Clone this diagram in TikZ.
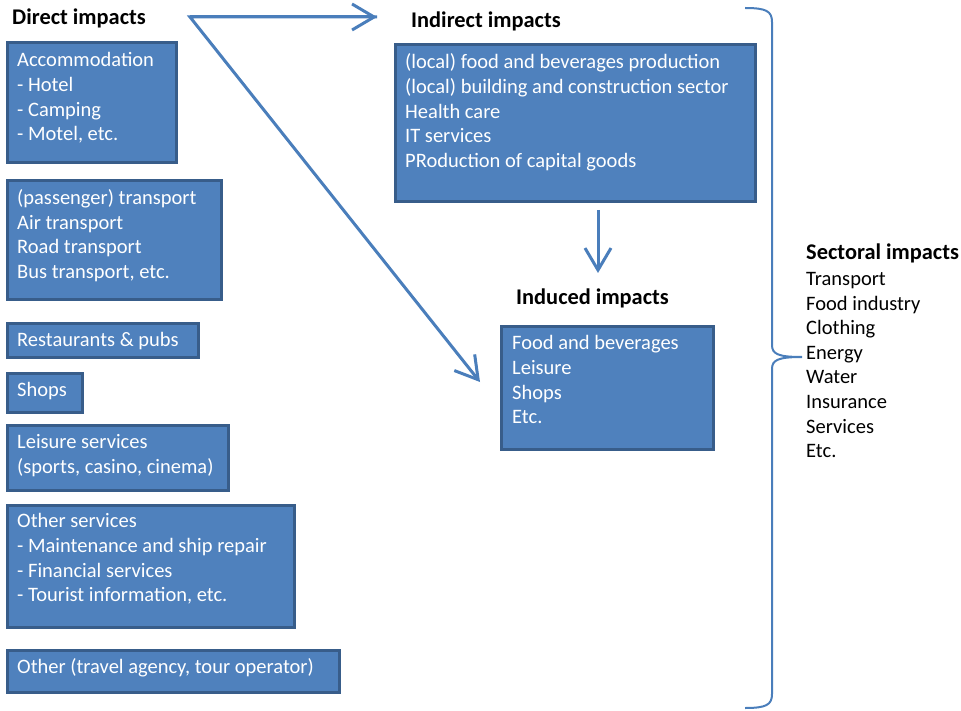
\documentclass[tikz,border=0pt]{standalone}
\usepackage{fontspec}
\setmainfont{Carlito}
\usetikzlibrary{arrows.meta,positioning,calc}
\definecolor{boxfill}{HTML}{4F81BD}
\definecolor{boxline}{HTML}{385D8A}
\definecolor{arrowblue}{HTML}{4A7EBB}
\begin{document}
\begin{tikzpicture}[x=1pt,y=1pt,
  box/.style={draw=boxline, fill=boxfill, line width=3pt, rectangle, inner sep=0pt, anchor=north west},
  boxtext/.style={anchor=north west, inner sep=0pt, text=white, align=left, font=\fontsize{20.5}{24.6}\selectfont},
  heading/.style={anchor=base west, inner sep=0pt, text=black, font=\fontsize{22.4}{26}\selectfont\bfseries},
  plain/.style={anchor=north west, inner sep=0pt, text=black, align=left, font=\fontsize{20.5}{24.6}\selectfont},
  arr/.style={draw=arrowblue, line width=3pt, -{Straight Barb[length=22pt, width=26pt]}},
  bracestyle/.style={draw=arrowblue, line width=2pt}
]
\useasboundingbox (0,0) rectangle (961,-711);

% Headings
\node[heading] (dirH) at (12,-25) {Direct impacts};
\node[heading] (indH) at (411,-27.5) {Indirect impacts};
\node[heading] (icdH) at (516,-305) {Induced impacts};
\node[heading] (secH) at (806,-260) {Sectoral impacts};

% Direct impact boxes
\node[box, minimum width=169pt, minimum height=120pt] (b1) at (5.5,-41.5) {};
\node[boxtext] (t1) at ([shift={(11.5,-8)}]b1.north west) {\strut Accommodation\\- Hotel\\- Camping\\- Motel, etc.};

\node[box, minimum width=214pt, minimum height=119pt] (b2) at (5.5,-179.5) {};
\node[boxtext] (t2) at ([shift={(11.5,-7.5)}]b2.north west) {\strut (passenger) transport\\Air transport\\Road transport\\Bus transport, etc.};

\node[box, minimum width=191pt, minimum height=34pt] (b3) at (5.5,-321.5) {};
\node[boxtext] (t3) at ([shift={(11.5,-7.5)}]b3.north west) {\strut Restaurants \& pubs};

\node[box, minimum width=75pt, minimum height=39pt] (b4) at (5.5,-371.5) {};
\node[boxtext] (t4) at ([shift={(11.5,-7.5)}]b4.north west) {\strut Shops};

\node[box, minimum width=221pt, minimum height=65pt] (b5) at (5.5,-423.5) {};
\node[boxtext] (t5) at ([shift={(11.5,-7.5)}]b5.north west) {\strut Leisure services\\(sports, casino, cinema)};

\node[box, minimum width=287pt, minimum height=122pt] (b6) at (5.5,-503.5) {};
\node[boxtext] (t6) at ([shift={(11.5,-7)}]b6.north west) {\strut Other services\\- Maintenance and ship repair\\- Financial services\\- Tourist information, etc.};

\node[box, minimum width=332pt, minimum height=42pt] (b7) at (5.5,-648.5) {};
\node[boxtext] (t7) at ([shift={(11.5,-7.5)}]b7.north west) {\strut Other (travel agency, tour operator)};

% Indirect box
\node[box, minimum width=360pt, minimum height=157pt] (ind) at (393.5,-43.5) {};
\node[boxtext] (tind) at ([shift={(11.5,-8)}]ind.north west) {\strut (local) food and beverages production\\(local) building and construction sector\\Health care\\IT services\\PRoduction of capital goods};

% Induced box
\node[box, minimum width=212pt, minimum height=123pt] (icd) at (499.5,-324.5) {};
\node[boxtext] (ticd) at ([shift={(12.5,-8)}]icd.north west) {\strut Food and beverages\\Leisure\\Shops\\Etc.};

% Sectoral list
\node[plain] (sec) at ([shift={(0,-8)}]secH.base west) {\strut Transport\\Food industry\\Clothing\\Energy\\Water\\Insurance\\Services\\Etc.};

% Arrows
\coordinate (src) at (190,-17);
\coordinate (topTip) at (377,-17);
\coordinate (diagTip) at (480,-382);
\coordinate (downStart) at (598,-210);
\coordinate (downTip) at (598,-273);
\draw[arr, line join=miter] (topTip) -- (src) -- (diagTip);
\draw[arr] (src) -- (topTip);
\draw[arr] (downStart) -- (downTip);

% Brace
\coordinate (braceTop) at (745,-8);
\coordinate (braceTip) at (802,-357);
\coordinate (braceBot) at (745,-708);
\draw[bracestyle] (braceTop) .. controls (766,-8) and (772,-11) .. (772,-22)
  -- (772,-345) .. controls (772,-354) and (778,-357) .. (braceTip)
  (braceTip) .. controls (778,-357) and (772,-360) .. (772,-369)
  -- (772,-694) .. controls (772,-705) and (766,-708) .. (braceBot);
\end{tikzpicture}
\end{document}
